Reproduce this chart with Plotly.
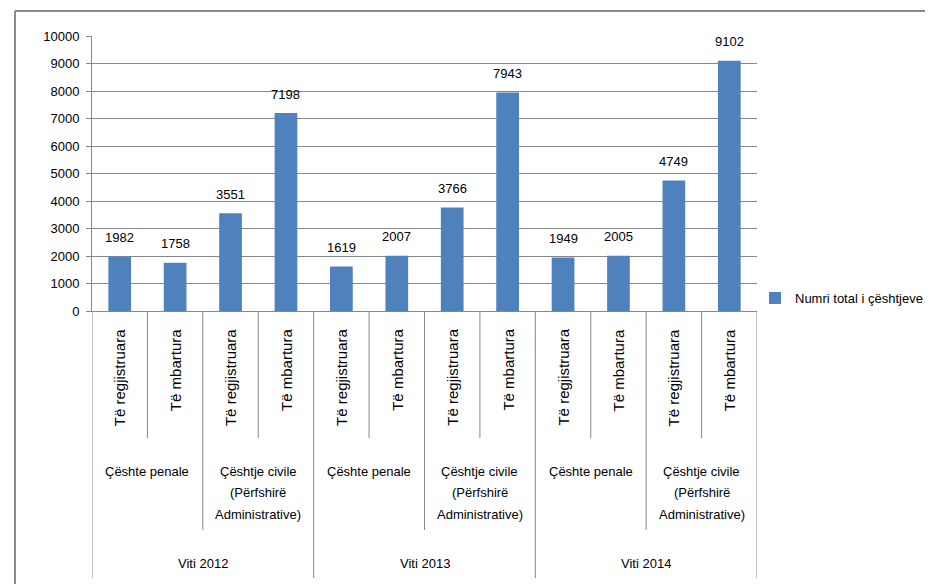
import plotly.graph_objects as go

# ---- data ----
years = ["Viti 2012", "Viti 2013", "Viti 2014"]
case_types = [["Çështe penale"], ["Çështje civile", "(Përfshirë", "Administrative)"]]
statuses = ["Të regjistruara", "Të mbartura"]
values = [1982, 1758, 3551, 7198, 1619, 2007, 3766, 7943, 1949, 2005, 4749, 9102]
series_name = "Numri total i çështjeve"

# ---- layout constants ----
W, H = 933, 584
OFF = 8  # default page body margin of the browser
# plot area in screen pixels
PX0, PX1, PY0, PY1 = 92, 757, 36, 311
L = PX0 - OFF
T = PY0 - OFF
PW = PX1 - PX0
PH = PY1 - PY0
R = W - L - PW
B = H - T - PH
FONT = "Liberation Sans, Arial, sans-serif"
GRID = "#878787"
BAR = "#4F81BD"


def py(px):
    """screen pixel y -> paper y"""
    return (PY1 - px) / PH


def pxx(px):
    """screen pixel x -> paper x"""
    return (px - PX0) / PW


n = len(values)
xs = list(range(n))

fig = go.Figure()
fig.add_trace(go.Bar(
    x=xs, y=values, name=series_name, marker=dict(color=BAR, line=dict(width=0)),
    width=0.41, showlegend=True,
))

annotations = []
shapes = []

# value labels
for x, v in zip(xs, values):
    annotations.append(dict(x=x, y=v, xref="x", yref="y", text=str(v), showarrow=False,
                            yanchor="middle", yshift=19, font=dict(size=13, color="#000")))

# level 1 labels (rotated)
for i in range(n):
    annotations.append(dict(x=i, y=py(327), xref="x", yref="paper", text=statuses[i % 2],
                            textangle=-90, showarrow=False, xanchor="center", yanchor="top",
                            font=dict(size=15, color="#000")))

# level 2 labels
for g in range(n // 2):
    lines = case_types[g % 2]
    for k, line in enumerate(lines):
        annotations.append(dict(x=2 * g + 0.5, y=py(471 + 21.5 * k), xref="x", yref="paper",
                                text=line, showarrow=False, xanchor="center", yanchor="middle",
                                font=dict(size=13, color="#000")))

# level 3 labels
for yi, yr in enumerate(years):
    annotations.append(dict(x=4 * yi + 1.5, y=py(563), xref="x", yref="paper", text=yr,
                            showarrow=False, xanchor="center", yanchor="middle",
                            font=dict(size=13, color="#000")))

# category separators
for k in range(n + 1):
    xb = k - 0.5
    if k % 4 == 0:
        depth = 578
    elif k % 2 == 0:
        depth = 530
    else:
        depth = 438
    shapes.append(dict(type="line", xref="x", yref="paper", x0=xb, x1=xb, y0=0, y1=py(depth),
                       line=dict(color=GRID, width=1)))

# outer chart border (top and left)
shapes.append(dict(type="line", xref="paper", yref="paper", x0=pxx(15), x1=pxx(960),
                   y0=py(11), y1=py(11), line=dict(color="#8a8a8a", width=2)))
shapes.append(dict(type="line", xref="paper", yref="paper", x0=pxx(15), x1=pxx(15),
                   y0=py(11), y1=py(620), line=dict(color="#8a8a8a", width=2)))

fig.update_layout(
    width=W, height=H,
    margin=dict(l=L, r=R, t=T, b=B, pad=0, autoexpand=False),
    paper_bgcolor="white", plot_bgcolor="white",
    font=dict(family=FONT, size=13, color="#000"),
    bargap=0.59,
    xaxis=dict(range=[-0.5, n - 0.5], showticklabels=False, showgrid=False, zeroline=False,
               showline=True, linecolor=GRID, linewidth=1, ticks=""),
    yaxis=dict(range=[0, 10000], dtick=1000, tickformat="d", showgrid=True, gridcolor=GRID,
               gridwidth=1, zeroline=False, showline=True, linecolor=GRID, linewidth=1,
               ticks="outside", ticklen=5, tickcolor=GRID, tickfont=dict(size=13, color="#000"),
               ticklabelstandoff=4),
    legend=dict(x=pxx(755), y=py(298), xanchor="left", yanchor="middle",
                font=dict(size=13, color="#000"), bgcolor="rgba(0,0,0,0)", itemwidth=30,
                tracegroupgap=0),
    annotations=annotations,
    shapes=shapes,
)

fig.write_html("out.html")
